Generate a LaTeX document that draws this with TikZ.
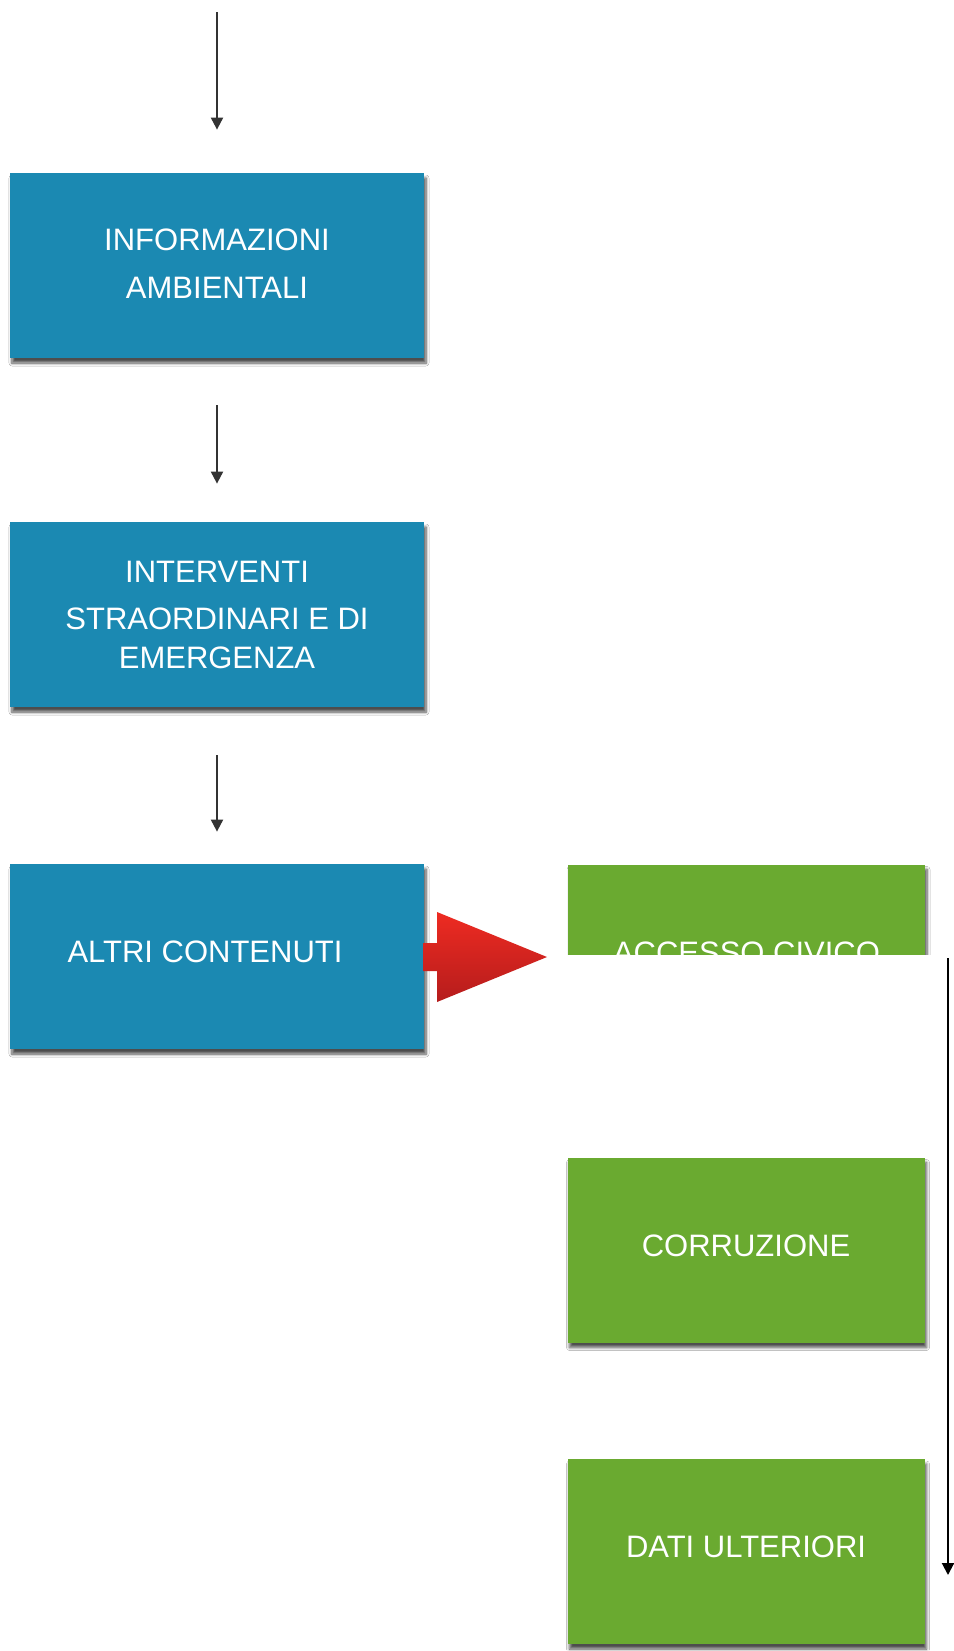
\documentclass[tikz,border=0pt]{standalone}
\usepackage{fontspec}
\setmainfont{Liberation Sans}
\usepackage{tikz}
\usetikzlibrary{arrows.meta,positioning,shadows.blur,calc}
\definecolor{PAblue}{HTML}{1B89B2}
\definecolor{PAgreen}{HTML}{6AAA30}
\definecolor{PAred}{HTML}{EE2B22}
\definecolor{PAdarkred}{HTML}{B51C1C}
\tikzset{
  bluebox/.style={fill=PAblue,text=white,minimum width=207pt,minimum height=92.5pt,
    inner sep=0pt,align=center,font=\fontsize{15.5}{19.5}\selectfont,
    blur shadow={shadow xshift=1pt,shadow yshift=-2.5pt,shadow opacity=70,
      shadow blur steps=6,shadow blur radius=1.5pt}},
  greenbox/.style={bluebox,fill=PAgreen,minimum width=178.5pt},
  flowarrow/.style={draw=black!80,line width=1pt,-{Triangle[length=6pt,width=6pt]}}
}
\begin{document}
\begin{tikzpicture}[x=0.5pt,y=-0.5pt]
        \useasboundingbox[fill=white] (0,0) rectangle (954,1651);
        % left column
        \node[bluebox,text depth=2pt] (info) at (217,265.5) {INFORMAZIONI\\[4.5pt]AMBIENTALI};
        \node[bluebox] (interv) at (217,614.5) {INTERVENTI\\[4pt]STRAORDINARI E DI\\EMERGENZA};
        \node[bluebox,text depth=4.5pt] (altri) at (217,956.5) {ALTRI CONTENUTI\hspace{12pt}};
        \coordinate (start) at (217,12);
        \draw[flowarrow] (start) -- ([yshift=21.5pt]info.north);
        \draw[flowarrow] ([yshift=-23.5pt]info.south) -- ([yshift=19pt]interv.north);
        \draw[flowarrow] ([yshift=-24pt]interv.south) -- ([yshift=16pt]altri.north);
        % red arrow
        \shade[top color=PAred,bottom color=PAdarkred] (423,943) -- (437,943) -- (437,912)
          -- (547,957) -- (437,1002) -- (437,971) -- (423,971) -- cycle;
        % right column, first box cut off
        \begin{scope}
          \clip (550,830) rectangle (954,954);
          \node[greenbox,text depth=4.5pt] (accesso) at (746.5,957) {ACCESSO CIVICO};
        \end{scope}
        \node[greenbox,text depth=4.5pt] (corr) at (746,1250) {CORRUZIONE};
        \node[greenbox,text depth=4.5pt] (dati) at (746,1551.5) {DATI ULTERIORI};
        \coordinate (rtop) at (948,958);
        \coordinate (rend) at (948,1575);
        \draw[flowarrow,draw=black] (rtop) -- (rend);
      \end{tikzpicture}
\end{document}
